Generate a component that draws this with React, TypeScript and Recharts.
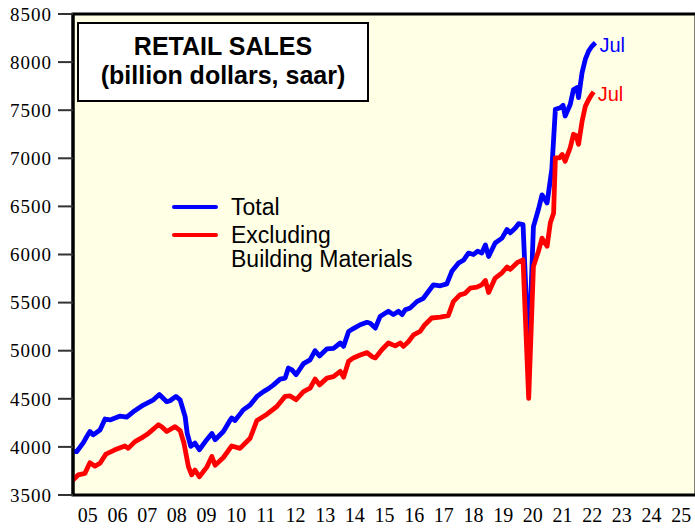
import { LineChart, Line, XAxis, YAxis, CartesianGrid, ReferenceArea, Legend } from 'recharts';

// decimal-year positions and values (billion dollars, saar)
const totalYears = [
  2005.0, 2005.12, 2005.35, 2005.46, 2005.57, 2005.68, 2005.91, 2006.08, 2006.25, 2006.59,
  2006.81, 2007.03, 2007.37, 2007.71, 2007.91, 2008.16, 2008.27, 2008.47, 2008.61, 2008.78,
  2008.85, 2008.97, 2009.11, 2009.26, 2009.51, 2009.68, 2009.79, 2010.07, 2010.3, 2010.35,
  2010.46, 2010.74, 2010.97, 2011.2, 2011.42, 2011.59, 2011.76, 2011.98, 2012.15, 2012.26,
  2012.38, 2012.52, 2012.77, 2012.99, 2013.16, 2013.31, 2013.56, 2013.78, 2014.01, 2014.12,
  2014.29, 2014.45, 2014.68, 2014.91, 2015.02, 2015.19, 2015.35, 2015.63, 2015.8, 2015.97,
  2016.09, 2016.2, 2016.37, 2016.59, 2016.81, 2016.98, 2017.15, 2017.38, 2017.6, 2017.77,
  2017.99, 2018.16, 2018.33, 2018.5, 2018.64, 2018.78, 2018.9, 2019.01, 2019.23, 2019.46,
  2019.63, 2019.74, 2019.91, 2020.02, 2020.17, 2020.36, 2020.52, 2020.69, 2020.81, 2020.98,
  2021.06, 2021.14, 2021.26, 2021.43, 2021.52, 2021.59, 2021.76, 2021.87, 2021.99, 2022.04,
  2022.16, 2022.27, 2022.38, 2022.49, 2022.61,
];
const totalValues = [
  3955, 3950, 4045, 4105, 4160, 4125, 4175, 4290, 4280, 4320,
  4310, 4365, 4435, 4490, 4545, 4470, 4480, 4525, 4490, 4315,
  4140, 4005, 4040, 3970, 4075, 4140, 4075, 4160, 4280, 4300,
  4275, 4385, 4435, 4525, 4575, 4605, 4645, 4705, 4715, 4820,
  4800, 4750, 4865, 4905, 5000, 4945, 5020, 5025, 5080, 5045,
  5200, 5230, 5270, 5295, 5285, 5235, 5355, 5410, 5375, 5410,
  5375, 5425, 5445, 5510, 5545, 5615, 5685, 5675, 5695, 5825,
  5910, 5940, 6015, 6000, 6035, 6015, 6100, 5980, 6120, 6170,
  6260, 6225, 6275, 6320, 6310, 4950, 6290, 6470, 6620, 6535,
  6710, 6885, 7510, 7525, 7550, 7440, 7560, 7715, 7735, 7630,
  7890, 8030, 8115, 8165, 8200,
];

const exYears = [
  2005.0, 2005.18, 2005.4, 2005.57, 2005.74, 2005.91, 2006.11, 2006.41, 2006.75, 2006.86,
  2007.09, 2007.37, 2007.54, 2007.88, 2007.99, 2008.16, 2008.44, 2008.61, 2008.74, 2008.89,
  2009.0, 2009.11, 2009.26, 2009.51, 2009.68, 2009.79, 2010.07, 2010.35, 2010.63, 2010.97,
  2011.2, 2011.54, 2011.87, 2012.15, 2012.32, 2012.52, 2012.77, 2012.99, 2013.16, 2013.31,
  2013.56, 2013.78, 2014.01, 2014.12, 2014.29, 2014.45, 2014.68, 2014.91, 2015.07, 2015.19,
  2015.41, 2015.63, 2015.86, 2016.03, 2016.14, 2016.31, 2016.48, 2016.7, 2016.86, 2017.09,
  2017.38, 2017.65, 2017.82, 2018.04, 2018.21, 2018.39, 2018.61, 2018.78, 2018.9, 2019.01,
  2019.23, 2019.46, 2019.63, 2019.74, 2019.97, 2020.17, 2020.36, 2020.52, 2020.69, 2020.81,
  2020.98, 2021.09, 2021.2, 2021.26, 2021.4, 2021.49, 2021.59, 2021.76, 2021.87, 2021.96,
  2022.04, 2022.16, 2022.27, 2022.38, 2022.49, 2022.55,
];
const exValues = [
  3655, 3710, 3725, 3835, 3800, 3830, 3925, 3970, 4010, 3985,
  4055, 4105, 4140, 4230, 4210, 4160, 4210, 4170, 4040, 3795,
  3710, 3760, 3690, 3790, 3900, 3810, 3890, 4010, 3985, 4090,
  4275, 4340, 4420, 4525, 4530, 4490, 4575, 4610, 4705, 4645,
  4715, 4730, 4785, 4725, 4890, 4925, 4955, 4980, 4940, 4925,
  5010, 5080, 5050, 5080, 5045, 5095, 5165, 5200, 5270, 5340,
  5350, 5365, 5510, 5580, 5595, 5650, 5660, 5685, 5730, 5605,
  5755, 5810, 5870, 5845, 5915, 5945, 4505, 5875, 6035, 6170,
  6085, 6330, 6430, 7005, 7005, 7040, 6970, 7110, 7250, 7235,
  7145, 7385, 7540, 7610, 7665, 7690,
];

const yearTicks = [
  2005, 2006, 2007, 2008, 2009, 2010, 2011, 2012, 2013, 2014, 2015,
  2016, 2017, 2018, 2019, 2020, 2021, 2022, 2023, 2024, 2025, 2026,
];
const yearLabels = [
  '05', '06', '07', '08', '09', '10', '11', '12', '13', '14', '15',
  '16', '17', '18', '19', '20', '21', '22', '23', '24', '25',
];
const labelTicks = yearLabels.map((_, i) => yearTicks[i] + 0.5);
const valueTicks = [3500, 4000, 4500, 5000, 5500, 6000, 6500, 7000, 7500, 8000, 8500];

const seriesNames = ['Total', 'Excluding\nBuilding Materials'];
const lastMonth = 'Jul';

const totalData = totalYears.map((t, i) => ({ t, v: totalValues[i] }));
const exData = exYears.map((t, i) => ({ t, v: exValues[i] }));

const sans = '"Liberation Sans", Arial, Helvetica, sans-serif';
const serif = '"Liberation Serif", "Times New Roman", serif';

function endLabel(color: string, count: number) {
  return (props: any) => {
    if (props.index !== count - 1) return <g />;
    return (
      <text x={props.x + 4} y={props.y + 9} fill={color} fontSize={20} fontFamily={sans}>
        {lastMonth}
      </text>
    );
  };
}

// row offsets inside the legend box: [line top, text top]
const legendRows = [
  [14.5, 5],
  [42.8, 33.3],
];

function LegendBox({ payload }: any) {
  const items = payload || [];
  return (
    <div style={{ position: 'relative', width: 260, height: 90, fontFamily: sans, fontSize: 23, lineHeight: '24px', color: '#000' }}>
      {items.map((p: any) => {
        const row = legendRows[Math.max(0, seriesNames.indexOf(p.value))];
        return (
          <div key={p.value}>
            <div style={{ position: 'absolute', left: 0, top: row[0], width: 46, height: 4.5, background: p.color, borderRadius: 2 }} />
            <div style={{ position: 'absolute', left: 59, top: row[1], whiteSpace: 'pre' }}>{p.value}</div>
          </div>
        );
      })}
    </div>
  );
}

export default function App() {
  return (
    <div style={{ position: 'absolute', left: 0, top: 0, width: 695, height: 529, overflow: 'hidden', background: '#fff' }}>
      <LineChart width={700} height={529} margin={{ top: 14, right: 4, bottom: 0, left: 0 }}>
        <CartesianGrid horizontal={false} vertical={false} fill="#FFFFE6" xAxisId="years" />
        <XAxis
          xAxisId="years"
          dataKey="t"
          type="number"
          domain={[2005, 2026]}
          ticks={yearTicks}
          allowDataOverflow
          height={0}
          tickSize={13}
          tickLine={{ stroke: '#000', strokeWidth: 2.5 }}
          axisLine={{ stroke: '#000', strokeWidth: 3 }}
          tickFormatter={() => ''}
        />
        <XAxis
          xAxisId="labels"
          dataKey="t"
          type="number"
          domain={[2005, 2026]}
          ticks={labelTicks}
          allowDataOverflow
          height={34}
          axisLine={false}
          tickLine={false}
          tickSize={13}
          tickMargin={0}
          interval={0}
          tick={{ fill: '#000', fontSize: 20, fontFamily: serif }}
          tickFormatter={(v: number) => yearLabels[Math.floor(v) - 2005]}
        />
        <YAxis
          domain={[3500, 8500]}
          ticks={valueTicks}
          width={73}
          interval={0}
          tickSize={15}
          tickMargin={6}
          axisLine={{ stroke: '#000', strokeWidth: 3 }}
          tickLine={{ stroke: '#333', strokeWidth: 2 }}
          tick={{ fill: '#000', fontSize: 19, fontFamily: serif, letterSpacing: 1 }}
        />
        <ReferenceArea
          xAxisId="years"
          x1={2005}
          x2={2026}
          y1={3500}
          y2={8500}
          fill="none"
          stroke="#000"
          strokeWidth={3}
          ifOverflow="visible"
        />
        <Legend
          layout="vertical"
          align="center"
          verticalAlign="middle"
          wrapperStyle={{ left: 172, top: 190, width: 260 }}
          content={<LegendBox />}
        />
        <Line
          xAxisId="years"
          data={totalData}
          dataKey="v"
          name={seriesNames[0]}
          type="linear"
          stroke="#0000FF"
          strokeWidth={4.8}
          strokeLinejoin="round"
          dot={false}
          isAnimationActive={false}
          label={endLabel('#0000FF', totalData.length)}
        />
        <Line
          xAxisId="years"
          data={exData}
          dataKey="v"
          name={seriesNames[1]}
          type="linear"
          stroke="#FF0000"
          strokeWidth={4.8}
          strokeLinejoin="round"
          dot={false}
          isAnimationActive={false}
          label={endLabel('#FF0000', exData.length)}
        />
      </LineChart>
      <div
        style={{
          position: 'absolute',
          left: 77,
          top: 22,
          width: 292,
          height: 80,
          boxSizing: 'border-box',
          border: '2px solid #000',
          background: '#fff',
          display: 'flex',
          flexDirection: 'column',
          justifyContent: 'center',
          alignItems: 'center',
          paddingBottom: 2,
          fontFamily: sans,
          fontWeight: 'bold',
          fontSize: 25,
          lineHeight: '29px',
          color: '#000',
        }}
      >
        <div>RETAIL SALES</div>
        <div>(billion dollars, saar)</div>
      </div>
    </div>
  );
}
